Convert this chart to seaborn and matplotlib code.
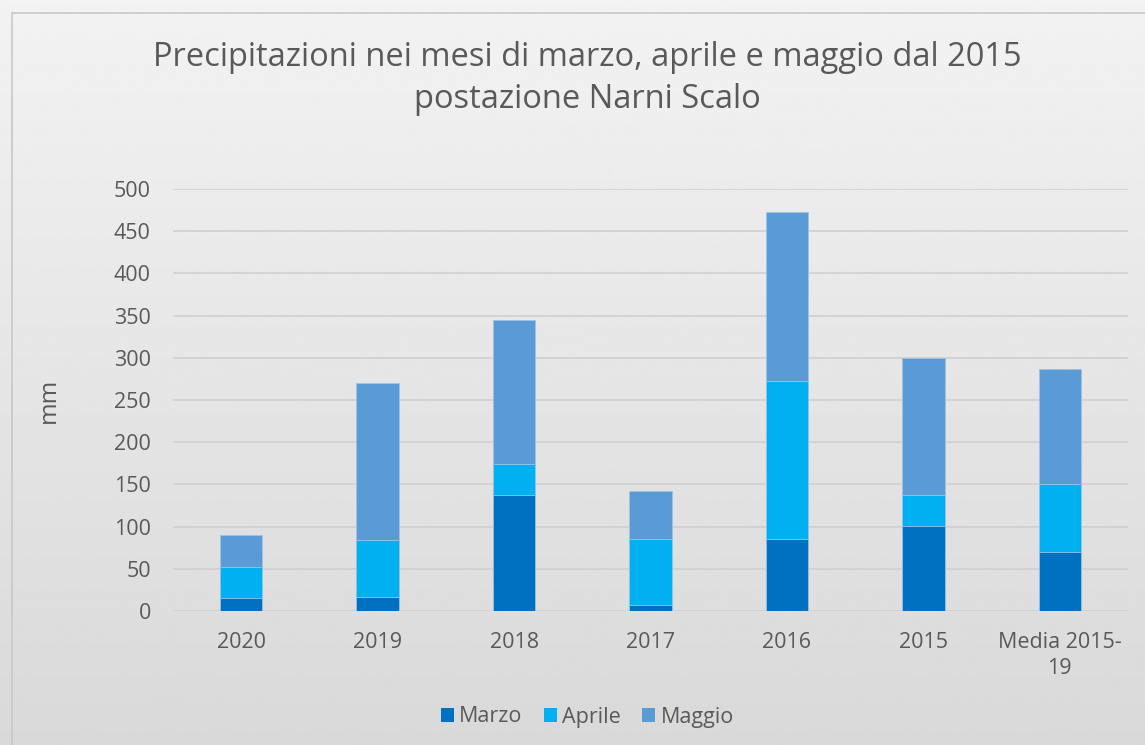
import numpy as np
import pandas as pd
import seaborn as sns
import matplotlib.pyplot as plt
from matplotlib.patches import Rectangle, Patch

categories = ["2020", "2019", "2018", "2017", "2016", "2015", "Media 2015-\n19"]
marzo = [15.4, 16.6, 137.4, 7.5, 85.7, 101.0, 70.3]
aprile = [37.1, 67.9, 36.6, 77.5, 187.2, 36.8, 80.5]
maggio = [37.2, 185.5, 171.0, 57.0, 200.0, 162.0, 135.6]

colors = {"Marzo": "#0070C0", "Aprile": "#00B0F0", "Maggio": "#5B9BD5"}
text_col = "#595959"

df = pd.DataFrame({"cat": categories, "Marzo": marzo, "Aprile": aprile, "Maggio": maggio})
df["c1"] = df["Marzo"]
df["c2"] = df["Marzo"] + df["Aprile"]
df["c3"] = df["c2"] + df["Maggio"]

sns.set_theme(style="white")
plt.rcParams["font.family"] = ["Open Sans", "DejaVu Sans"]

fig = plt.figure(figsize=(11.45, 7.45), dpi=100)

# background gradient
bg = fig.add_axes([0, 0, 1, 1], zorder=-10)
grad = np.linspace(0.95, 0.85, 256).reshape(-1, 1)
bg.imshow(grad, aspect="auto", cmap="gray", vmin=0, vmax=1, extent=[0, 1, 0, 1])
bg.add_patch(Rectangle((12 / 1145, -0.01), 1.02, 1 - 13 / 745 + 0.01,
                       fill=False, edgecolor="#c8c8c8", lw=1.2, transform=bg.transAxes))
bg.set_xlim(0, 1)
bg.set_ylim(0, 1)
bg.axis("off")

ax = fig.add_axes([173 / 1145, 1 - 611 / 745, (1128 - 173) / 1145, (611 - 189) / 745])
ax.patch.set_alpha(0)

for col, name in [("c3", "Maggio"), ("c2", "Aprile"), ("c1", "Marzo")]:
    sns.barplot(data=df, x="cat", y=col, order=categories, color=colors[name],
                width=0.31, saturation=1, edgecolor="#9dc3e6", linewidth=0.6, ax=ax, zorder=3)

ax.set_ylim(0, 500)
ax.set_yticks(range(0, 501, 50))
ax.yaxis.grid(True, color="#d0d0d0", lw=1.2, zorder=0)
ax.set_axisbelow(True)
for s in ax.spines.values():
    s.set_visible(False)
ax.tick_params(axis="both", length=0, labelsize=15.5, colors=text_col)
ax.tick_params(axis="y", pad=16)
ax.tick_params(axis="x", pad=15)
for lbl in ax.get_xticklabels():
    lbl.set_verticalalignment("top")
    lbl.set_linespacing(1.3)
ax.set_xlabel("")
ax.set_ylabel("mm", fontsize=17.5, color=text_col)
ax.yaxis.set_label_coords(-0.117, 0.5)

fig.text(0.513, 1 - 57 / 745, "Precipitazioni nei mesi di marzo, aprile e maggio dal 2015",
         ha="center", va="center", fontsize=23.5, color=text_col)
fig.text(0.513, 1 - 100 / 745, "postazione Narni Scalo",
         ha="center", va="center", fontsize=23.5, color=text_col)

handles = [Patch(facecolor=colors[n], edgecolor="none") for n in ["Marzo", "Aprile", "Maggio"]]
fig.legend(handles, ["Marzo", "Aprile", "Maggio"], loc="center", ncol=3,
           bbox_to_anchor=(0.513, 1 - 717 / 745), frameon=False, fontsize=15.5,
           handlelength=0.6, handleheight=0.6, handletextpad=0.25, columnspacing=1.0,
           labelcolor=text_col)

fig.savefig("out.png", dpi=100)
